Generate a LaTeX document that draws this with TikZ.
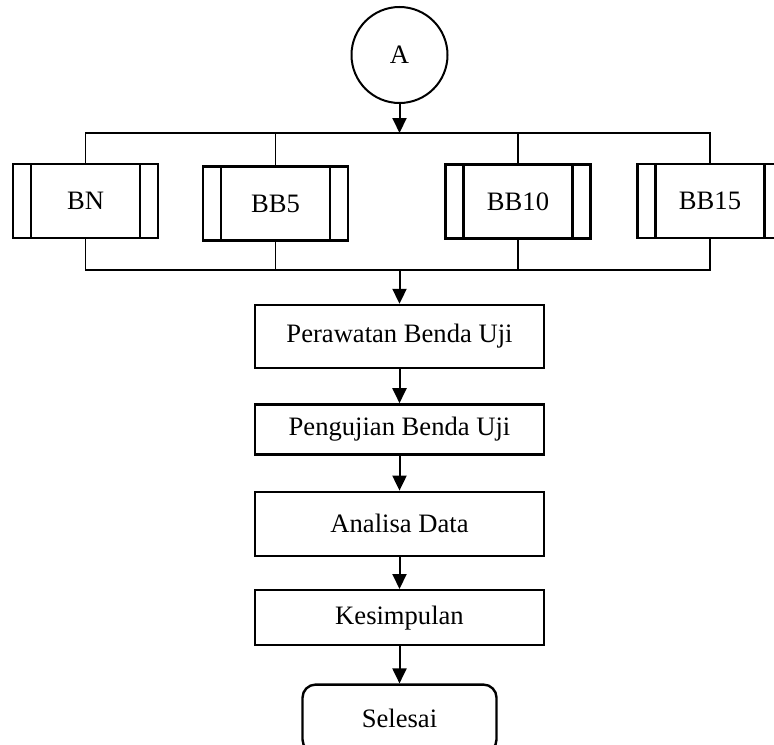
\documentclass[tikz,border=0pt]{standalone}
\usepackage{fontspec}
\setmainfont{Liberation Serif}
\usetikzlibrary{arrows.meta, positioning}

\begin{document}
\begin{tikzpicture}[
    x=0.5pt, y=-0.5pt,
    every node/.style={font=\fontsize{13.3}{16}\selectfont},
    connector/.style={circle, draw, line width=1pt, minimum size=48pt, inner sep=0pt},
    subproc/.style={rectangle, draw, line width=1.2pt, minimum width=72.5pt, minimum height=37pt, inner sep=0pt,
        path picture={\draw[line width=1.2pt]
            ([xshift=9pt]path picture bounding box.north west) -- ([xshift=9pt]path picture bounding box.south west)
            ([xshift=-9pt]path picture bounding box.north east) -- ([xshift=-9pt]path picture bounding box.south east);}},
    process/.style={rectangle, draw, line width=1.2pt, minimum width=144.5pt, inner sep=0pt},
    terminal/.style={rectangle, draw, line width=1.2pt, rounded corners=6.5pt, minimum width=97pt, minimum height=34pt},
    arrow/.style={line width=1pt, -{Triangle[width=7pt,length=7.5pt]}},
    bar/.style={line width=0.6pt}
]
\useasboundingbox (0,0) rectangle (774,744);

% Connector
\node[connector] (A) at (399.5,55) {A};

% Sample Variations
\node[subproc] (bn) at (85.5,201) {BN};
\node[subproc] (bb5) at (275.5,203.5) {BB5};
\node[subproc] (bb10) at (518,201.5) {BB10};
\node[subproc] (bb15) at (710,201) {BB15};

% Split and Join Points
\coordinate (splitT) at (399.5,133);
\coordinate (splitB) at (399.5,270);

% Process Steps
\node[process, minimum height=31.5pt] (rawat) at (399.5,336.5) {Perawatan Benda Uji};
\node[process, minimum height=25pt, below=17pt of rawat] (uji) {Pengujian Benda Uji};
\node[process, minimum height=32pt, below=17.5pt of uji] (analisa) {Analisa Data};
\node[process, minimum height=27.5pt, below=16pt of analisa] (simpul) {Kesimpulan};
\node[terminal, below=18.5pt of simpul] (selesai) {Selesai};

% Branch Lines
\draw[arrow] (A) -- (splitT);
\draw[bar] (bn.north) -- (bn.north |- splitT) -- (bb15.north |- splitT) -- (bb15.north);
\draw[bar] (bb5.north) -- (bb5.north |- splitT);
\draw[bar] (bb10.north) -- (bb10.north |- splitT);
\draw[bar] (bn.south) -- (bn.south |- splitB) -- (bb15.south |- splitB) -- (bb15.south);
\draw[bar] (bb5.south) -- (bb5.south |- splitB);
\draw[bar] (bb10.south) -- (bb10.south |- splitB);

% Arrows
\draw[arrow] (splitB) -- (rawat);
\draw[arrow] (rawat) -- (uji);
\draw[arrow] (uji) -- (analisa);
\draw[arrow] (analisa) -- (simpul);
\draw[arrow] (simpul) -- (selesai);

\end{tikzpicture}
\end{document}
